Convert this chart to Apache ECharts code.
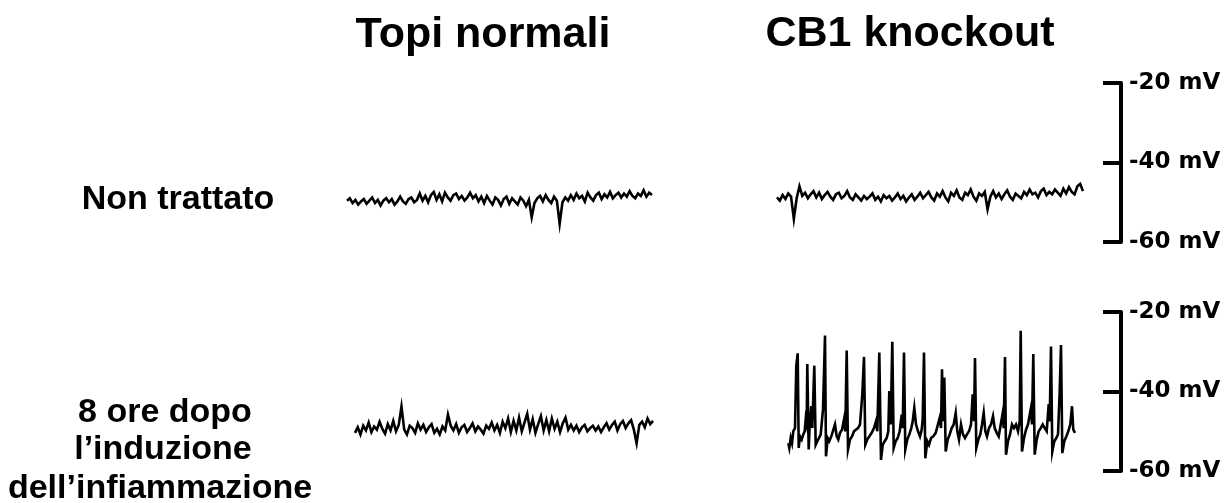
<!DOCTYPE html>
<html>
<head>
<meta charset="utf-8">
<script src="https://cdn.jsdelivr.net/npm/echarts@6/dist/echarts.min.js"></script>
<style>
  html, body { margin: 0; padding: 0; background: #fff; }
  #chart { width: 1229px; height: 503px; }
</style>
</head>
<body>
<div id="chart"></div>
<script>
// membrane potential traces (mV)
var colTitles = ['Topi normali', 'CB1 knockout'];
var rowLabels = ['Non trattato', '8 ore dopo', 'l\u2019induzione', 'dell\u2019infiammazione'];

// normal mice, untreated
var normUntreated = [
  -49.6,-49.0,-50.2,-49.4,-50.6,-49.8,-49.2,-50.4,-49.6,-48.8,
  -50.2,-49.4,-50.8,-49.6,-49.0,-50.0,-49.2,-50.6,-49.8,-48.6,
  -49.8,-50.4,-49.2,-48.8,-50.0,-49.4,-47.8,-49.6,-48.4,-50.0,
  -48.2,-47.4,-49.4,-48.0,-49.8,-47.6,-48.8,-49.6,-48.2,-47.8,
  -49.2,-48.4,-49.6,-48.8,-47.6,-49.0,-48.2,-49.8,-48.6,-50.2,
  -48.4,-49.6,-50.6,-48.8,-49.4,-50.8,-49.2,-48.6,-50.4,-49.0,
  -49.8,-50.6,-48.8,-49.6,-51.0,-49.4,-53.8,-50.2,-49.0,-48.4,
  -49.8,-48.2,-49.4,-50.2,-48.6,-49.6,-55.4,-50.0,-48.8,-49.6,
  -48.2,-49.4,-47.8,-49.0,-48.4,-49.8,-47.6,-48.8,-49.6,-48.2,
  -47.6,-49.2,-48.0,-48.8,-47.4,-49.0,-48.2,-47.6,-48.8,-47.8,
  -48.6,-47.2,-48.4,-49.0,-47.8,-48.4,-47.0,-48.6,-47.6,-48.2
];

// CB1 knockout, untreated
var koUntreated = [
  -48.8,-49.6,-48.2,-49.2,-47.8,-48.6,-54.2,-49.0,-46.0,-48.4,
  -47.6,-49.0,-48.0,-47.2,-48.8,-47.6,-49.2,-48.2,-47.4,-48.6,
  -49.4,-48.0,-47.6,-49.0,-48.4,-47.2,-48.8,-49.4,-48.0,-48.8,
  -49.6,-48.4,-49.2,-48.6,-47.8,-49.4,-48.6,-49.8,-48.2,-49.0,
  -48.4,-49.6,-48.8,-47.8,-49.2,-48.4,-49.8,-48.8,-48.0,-49.4,
  -48.6,-47.6,-49.0,-48.2,-47.4,-48.8,-49.6,-47.8,-48.6,-47.2,
  -48.8,-49.8,-47.6,-48.4,-47.0,-48.8,-49.4,-47.6,-48.2,-46.8,
  -48.6,-49.6,-47.8,-48.4,-47.4,-51.8,-48.6,-47.2,-48.8,-47.8,
  -49.2,-48.0,-47.0,-48.6,-49.4,-47.8,-48.4,-49.0,-47.4,-48.2,
  -46.8,-48.0,-47.6,-48.8,-47.2,-46.6,-48.2,-47.4,-48.0,-46.8,
  -47.6,-48.4,-46.6,-47.8,-46.2,-47.4,-48.0,-46.0,-45.4,-47.2
];

// normal mice, 8 h after inflammation
var normInflamed = [
  -50.4,-49.0,-50.8,-48.6,-49.8,-47.8,-50.2,-48.8,-49.6,-47.6,
  -49.4,-50.6,-48.2,-49.8,-47.4,-50.0,-48.4,-43.8,-49.6,-50.8,
  -48.6,-49.2,-50.4,-48.0,-49.6,-48.4,-50.2,-49.0,-48.2,-50.4,
  -49.4,-50.8,-48.8,-49.8,-45.8,-48.6,-49.8,-48.2,-50.4,-49.0,
  -48.4,-50.2,-49.2,-48.0,-50.0,-48.8,-49.6,-50.6,-48.6,-49.4,
  -47.8,-49.8,-48.4,-50.4,-47.6,-49.2,-46.8,-50.2,-47.4,-49.8,
  -46.6,-50.0,-47.8,-45.6,-49.6,-47.0,-50.4,-48.2,-46.2,-49.8,
  -47.2,-50.0,-46.8,-49.4,-47.6,-50.2,-48.0,-46.6,-49.6,-48.4,
  -49.8,-48.6,-50.2,-49.0,-48.4,-50.0,-49.2,-48.6,-49.8,-48.8,
  -50.2,-49.0,-48.0,-49.6,-48.4,-47.6,-49.8,-48.2,-47.4,-49.2,
  -48.0,-47.2,-49.6,-53.0,-48.4,-47.6,-49.0,-46.8,-48.2,-47.4
];

// CB1 knockout, 8 h after inflammation (firing)
var koInflTime = [
  1.3,2.3,3.7,5,6.3,8,9.3,10.7,11.7,13,14.7,16.3,17.7,18.7,19.7,20.3,21.7,22.7,24.3,25.3,
  27.3,28.7,30.3,32,33.7,36,38,39,40.7,42.3,44.3,46.3,48,49.7,51.3,53,55,57,58.3,59.7,
  61,63,65,67,69,71,73,75.3,77,78.3,80.3,82.3,84.7,87,89,90.3,92.3,94,95.7,97.7,
  99.7,101.3,102.3,103.7,105.3,106.7,108.7,110.7,112.7,114.7,115.7,117,118.3,120.3,122.3,124.3,125.7,127.3,129,131,
  133,134.7,135.7,137,138.3,140.3,142,144,146.3,148.7,150.7,152.7,154,155,156,157.3,158.7,160.7,162.7,164.7,
  166.7,168.7,170.3,172,174,176,178,180,182,184,185.7,187,188,189.3,191.3,193.3,195,196.7,198.3,200,
  202,204,206,207.7,209.7,211.7,213.7,215.7,216.7,218,219,221,223,225,227,229,231,232.7,233.7,235,
  237,239,241,244,245,246.3,247.7,249.7,251.7,253.7,255.7,257.7,259.7,261.7,262.7,264,265.3,267.3,269.3,271,
  272.7,274,275.3,277.3,279.3,281.3,283.3,285,286.3,288
];
var koInflMv = [
  -53.0,-54.2,-51.7,-53.0,-50.0,-49.2,-33.5,-30.4,-54.2,-51.3,-52.1,-50.8,-50.0,-47.0,-48.3,-33.1,-54.6,-48.3,-43.7,-49.2,
  -33.5,-53.4,-52.5,-51.7,-50.8,-44.5,-25.9,-56.3,-51.7,-52.5,-51.3,-50.8,-48.3,-51.3,-52.1,-50.4,-49.6,-47.0,-50.0,-29.7,
  -54.6,-52.1,-51.3,-50.0,-50.4,-49.2,-48.3,-40.7,-31.3,-53.4,-52.1,-51.3,-50.4,-49.2,-47.5,-50.0,-30.2,-57.2,-53.4,-52.5,
  -51.7,-50.0,-39.9,-48.3,-27.5,-54.2,-52.5,-51.7,-50.0,-45.8,-49.2,-30.2,-54.6,-52.1,-50.8,-49.2,-47.5,-44.1,-48.3,-50.0,
  -51.3,-49.6,-47.0,-30.2,-56.8,-52.5,-53.4,-51.7,-51.3,-50.4,-50.0,-46.6,-49.2,-34.4,-47.5,-36.5,-55.1,-52.1,-50.8,-49.2,
  -48.3,-45.4,-50.0,-52.1,-48.3,-50.8,-51.7,-50.8,-50.0,-48.3,-40.7,-47.5,-31.6,-54.2,-52.1,-50.8,-48.3,-45.4,-50.0,-51.3,
  -49.2,-48.3,-46.2,-49.2,-50.4,-51.3,-50.8,-45.4,-49.2,-31.3,-55.9,-52.5,-50.8,-48.3,-49.2,-48.3,-50.0,-47.5,-24.7,-55.1,
  -51.7,-49.6,-48.3,-44.1,-48.3,-30.6,-55.9,-52.1,-50.0,-49.2,-48.3,-49.2,-50.0,-43.2,-47.5,-28.7,-55.1,-52.5,-51.7,-50.8,
  -39.9,-28.3,-55.5,-52.5,-51.3,-50.0,-48.3,-43.7,-49.6,-50.4
];

function idx(arr) {
  return arr.map(function (v, i) { return [i, v]; });
}
function pairs(t, v) {
  return t.map(function (x, i) { return [x, v[i]]; });
}

var chart = echarts.init(document.getElementById('chart'));

var grids = [
  {left: 347, width: 305, top: 83, height: 159},
  {left: 777, width: 306, top: 83, height: 159},
  {left: 355, width: 298, top: 312, height: 159},
  {left: 787, width: 290, top: 312, height: 159},
  // scale bars
  {left: 1081, width: 40, top: 83, height: 159},
  {left: 1081, width: 40, top: 312, height: 159}
];

var xMax = [normUntreated.length - 1, koUntreated.length - 1, normInflamed.length - 1, 290, 1, 1];
var xAxes = xMax.map(function (m, i) {
  return {type: 'value', gridIndex: i, min: 0, max: m, show: false};
});

var yAxes = grids.map(function (g, i) {
  var isBar = i >= 4;
  return {
    type: 'value',
    gridIndex: i,
    min: -60,
    max: -20,
    interval: 20,
    position: isBar ? 'right' : 'left',
    show: isBar,
    axisLine: {show: isBar, onZero: false, lineStyle: {color: '#000', width: 4}},
    axisTick: {show: isBar, inside: true, length: 18, lineStyle: {color: '#000', width: 4}},
    axisLabel: {
      show: isBar,
      margin: 8,
      color: '#000',
      fontFamily: 'DejaVu Sans',
      fontWeight: 'bold',
      fontSize: 23,
      formatter: '{value} mV'
    },
    splitLine: {show: false}
  };
});

var traceData = [
  idx(normUntreated),
  idx(koUntreated),
  idx(normInflamed),
  pairs(koInflTime, koInflMv)
];

var series = traceData.map(function (d, i) {
  return {
    type: 'line',
    xAxisIndex: i,
    yAxisIndex: i,
    data: d,
    showSymbol: false,
    symbol: 'none',
    animation: false,
    lineStyle: {color: '#000', width: 2.6, join: 'miter'}
  };
});

function label(text, x, y, size) {
  return {
    type: 'text',
    x: x,
    y: y,
    style: {
      text: text,
      fill: '#000',
      font: 'bold ' + size + 'px "Liberation Sans", Arial, sans-serif',
      align: 'center',
      verticalAlign: 'middle',
      textAlign: 'center',
      textVerticalAlign: 'middle'
    }
  };
}

chart.setOption({
  backgroundColor: '#fff',
  animation: false,
  grid: grids,
  xAxis: xAxes,
  yAxis: yAxes,
  series: series,
  graphic: [
    label(colTitles[0], 483, 35, 43),
    label(colTitles[1], 910, 34, 43),
    label(rowLabels[0], 178, 200, 34),
    label(rowLabels[1], 165, 413, 34),
    label(rowLabels[2], 163, 450, 34),
    label(rowLabels[3], 160, 489, 34)
  ]
});
</script>
</body>
</html>
